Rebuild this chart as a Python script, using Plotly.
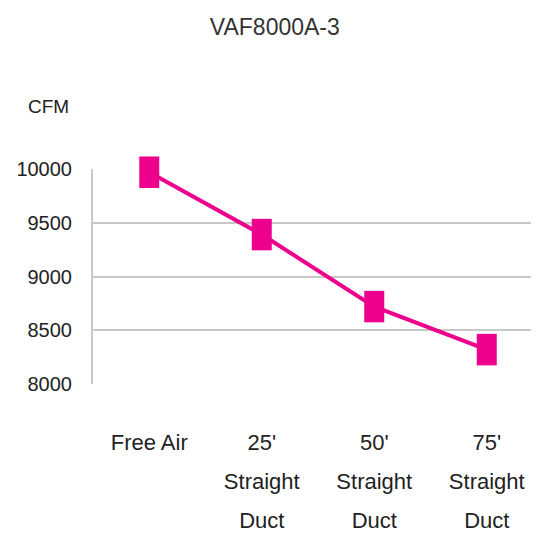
import plotly.graph_objects as go

title = "VAF8000A-3"
y_label = "CFM"
categories = ["Free Air", "25' Straight Duct", "50' Straight Duct", "75' Straight Duct"]
tick_text = ["Free Air", "25'<br>Straight<br>Duct", "50'<br>Straight<br>Duct", "75'<br>Straight<br>Duct"]
cfm = [9970, 9390, 8720, 8320]
y_ticks = [8000, 8500, 9000, 9500, 10000]

FONT = "Liberation Sans, Arial, sans-serif"
MAGENTA = "#EC008C"

x_idx = list(range(len(categories)))

fig = go.Figure()
fig.add_trace(go.Scatter(
    x=x_idx, y=cfm, mode="lines",
    line=dict(color=MAGENTA, width=4),
    cliponaxis=False, hoverinfo="skip", showlegend=False,
))
fig.add_trace(go.Scatter(
    x=x_idx, y=cfm, mode="markers",
    marker=dict(symbol="line-ns", size=22.5, color=MAGENTA,
                line=dict(color=MAGENTA, width=20)),
    cliponaxis=False, showlegend=False,
    customdata=categories,
    hovertemplate="%{customdata}: %{y} CFM<extra></extra>",
))

fig.update_layout(
    width=539, height=534,
    margin=dict(l=85, r=4, t=161, b=158),
    paper_bgcolor="white", plot_bgcolor="white",
    font=dict(family=FONT, color="#222222", size=20),
    title=dict(text=title, xref="container", yref="container",
               x=0.495, xanchor="center", y=0.964, yanchor="middle",
               font=dict(family=FONT, size=23, color="#333333")),
    annotations=[dict(text=y_label, xref="paper", yref="paper", x=-0.1, y=1.293,
                      xanchor="center", yanchor="middle", showarrow=False,
                      font=dict(family=FONT, size=19, color="#222222"))],
)
fig.update_xaxes(
    range=[-0.5, 3.5], tickmode="array", tickvals=x_idx,
    ticktext=[f'<span style="font-size:22px">{t}</span>' for t in tick_text],
    tickfont=dict(family=FONT, size=30, color="#222222"),
    showgrid=False, zeroline=False, showline=False, ticks="",
    ticklabelstandoff=35, fixedrange=True,
)
fig.update_yaxes(
    range=[8000, 10000], tickmode="array", tickvals=y_ticks,
    ticktext=[str(v) for v in y_ticks],
    tickfont=dict(family=FONT, size=20, color="#222222"),
    showgrid=True, gridcolor="#c8c8c8", gridwidth=2,
    showline=True, linecolor="#c8c8c8", linewidth=2,
    zeroline=False, ticks="", ticklabelstandoff=15, fixedrange=True,
)

fig.write_html("out.html")
